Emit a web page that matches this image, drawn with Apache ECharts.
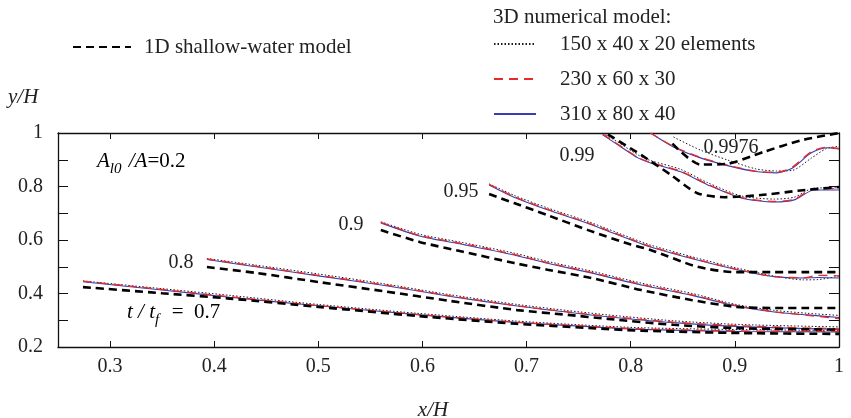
<!DOCTYPE html>
<html>
<head>
<meta charset="utf-8">
<script src="https://cdn.jsdelivr.net/npm/echarts@6.0.0/dist/echarts.min.js"></script>
<style>html,body{margin:0;padding:0;background:#fff}#main{width:851px;height:418px}</style>
</head>
<body>
<div id="main"></div>
<script>
var FONT = 'Liberation Serif';

// axis ticks
var xTicks = [0.3, 0.4, 0.5, 0.6, 0.7, 0.8, 0.9, 1];
var yLabels = [0.2, 0.4, 0.6, 0.8, 1];

// t/t_f = 0.7
var x70 = [0.274, 0.35, 0.415, 0.5, 0.595, 0.69, 0.76, 0.81, 0.906, 1.0];
var fine70 = [0.444, 0.413, 0.386, 0.354, 0.321, 0.292, 0.276, 0.266, 0.258, 0.256];
var mid70 = [0.446, 0.415, 0.388, 0.355, 0.322, 0.293, 0.277, 0.268, 0.260, 0.258];
var coarse70 = [0.447, 0.418, 0.393, 0.359, 0.326, 0.297, 0.281, 0.272, 0.265, 0.262];
var oneD70 = [0.424, 0.401, 0.381, 0.350, 0.316, 0.287, 0.271, 0.261, 0.252, 0.249];

// t/t_f = 0.8
var x80 = [0.393, 0.44, 0.5, 0.562, 0.627, 0.691, 0.74, 0.778, 0.841, 0.906, 1.0];
var fine80 = [0.527, 0.500, 0.466, 0.431, 0.389, 0.353, 0.330, 0.313, 0.291, 0.276, 0.266];
var mid80 = [0.529, 0.502, 0.468, 0.433, 0.391, 0.354, 0.331, 0.315, 0.293, 0.279, 0.268];
var coarse80 = [0.531, 0.506, 0.473, 0.437, 0.395, 0.359, 0.336, 0.320, 0.298, 0.284, 0.275];
var oneD80 = [0.499, 0.477, 0.443, 0.409, 0.372, 0.338, 0.320, 0.305, 0.283, 0.270, 0.265];

// t/t_f = 0.9
var x90 = [0.56, 0.598, 0.639, 0.688, 0.72, 0.762, 0.81, 0.858, 0.901, 0.938, 0.97, 1.0];
var fine90 = [0.664, 0.614, 0.583, 0.544, 0.513, 0.477, 0.432, 0.394, 0.353, 0.331, 0.320, 0.310];
var mid90 = [0.666, 0.616, 0.586, 0.546, 0.515, 0.479, 0.434, 0.396, 0.355, 0.332, 0.318, 0.306];
var coarse90 = [0.668, 0.621, 0.590, 0.551, 0.520, 0.484, 0.439, 0.401, 0.359, 0.337, 0.326, 0.318];
var oneD90 = [0.637, 0.592, 0.556, 0.514, 0.489, 0.458, 0.413, 0.376, 0.350, 0.346, 0.346, 0.346];

// t/t_f = 0.95
var x95 = [0.664, 0.688, 0.72, 0.759, 0.8, 0.819, 0.864, 0.901, 0.938, 0.966, 0.98, 1.0];
var fine95 = [0.806, 0.760, 0.713, 0.662, 0.601, 0.574, 0.525, 0.490, 0.463, 0.458, 0.460, 0.458];
var mid95 = [0.808, 0.762, 0.715, 0.664, 0.603, 0.576, 0.527, 0.491, 0.463, 0.459, 0.468, 0.466];
var coarse95 = [0.810, 0.767, 0.720, 0.669, 0.608, 0.581, 0.532, 0.496, 0.465, 0.451, 0.452, 0.465];
var oneD95 = [0.772, 0.738, 0.693, 0.637, 0.583, 0.563, 0.500, 0.480, 0.480, 0.480, 0.480, 0.480];

// t/t_f = 0.99
var x99 = [0.773, 0.788, 0.807, 0.819, 0.848, 0.874, 0.906, 0.938, 0.957, 0.976, 1.0];
var fine99 = [0.993, 0.955, 0.907, 0.888, 0.855, 0.806, 0.757, 0.742, 0.750, 0.787, 0.787];
var mid99 = [0.996, 0.957, 0.909, 0.890, 0.857, 0.808, 0.759, 0.744, 0.752, 0.791, 0.792];
var coarse99 = [1.000, 0.965, 0.918, 0.897, 0.864, 0.814, 0.765, 0.753, 0.760, 0.794, 0.795];
var x1d99 = [0.778, 0.81, 0.838, 0.864, 0.89, 0.925, 0.963, 1.0];
var oneD99 = [0.995, 0.918, 0.845, 0.775, 0.760, 0.768, 0.785, 0.798];

// t/t_f = 0.9976
var x9976 = [0.819, 0.841, 0.867, 0.893, 0.92, 0.94, 0.955, 0.973, 0.988, 1.0];
var fine9976 = [1.0, 0.948, 0.907, 0.878, 0.856, 0.851, 0.868, 0.925, 0.945, 0.940];
var mid9976 = [1.0, 0.950, 0.909, 0.880, 0.857, 0.853, 0.872, 0.929, 0.947, 0.942];
var xc9976 = [0.841, 0.867, 0.893, 0.92, 0.94, 0.955, 0.973, 0.988, 1.0];
var coarse9976 = [0.985, 0.936, 0.899, 0.866, 0.858, 0.860, 0.905, 0.942, 0.950];
var x1d9976 = [0.84, 0.867, 0.891, 0.928, 0.963, 1.0];
var oneD9976 = [0.960, 0.882, 0.884, 0.930, 0.972, 1.0];

var N1D = '1D shallow-water model';
var NC = '150 x 40 x 20 elements';
var NM = '230 x 60 x 30';
var NF = '310 x 80 x 40';

var st = {
  coarse: {color: '#1a1a1a', width: 1, type: [1.5, 2]},
  fine: {color: '#3b3bb3', width: 1.1, type: 'solid'},
  mid: {color: '#e52a2a', width: 1.3, type: [9, 6]},
  oneD: {color: '#000', width: 2.6, type: [8, 5]}
};

function line(name, xs, ys, s, z) {
  return {
    name: name, type: 'line', z: z, silent: true,
    data: xs.map(function(x, i) { return [x, ys[i]]; }),
    symbol: 'none', showSymbol: false, smooth: 0.25,
    lineStyle: {color: s.color, width: s.width, type: s.type},
    itemStyle: {color: s.color},
    emphasis: {disabled: true}
  };
}

var series = [];
[[x70, coarse70], [x80, coarse80], [x90, coarse90], [x95, coarse95], [x99, coarse99], [xc9976, coarse9976]]
  .forEach(function(c) { series.push(line(NC, c[0], c[1], st.coarse, 2)); });
[[x70, fine70], [x80, fine80], [x90, fine90], [x95, fine95], [x99, fine99], [x9976, fine9976]]
  .forEach(function(c) { series.push(line(NF, c[0], c[1], st.fine, 3)); });
[[x70, mid70], [x80, mid80], [x90, mid90], [x95, mid95], [x99, mid99], [x9976, mid9976]]
  .forEach(function(c) { series.push(line(NM, c[0], c[1], st.mid, 4)); });
[[x70, oneD70], [x80, oneD80], [x90, oneD90], [x95, oneD95], [x1d99, oneD99], [x1d9976, oneD9976]]
  .forEach(function(c) { series.push(line(N1D, c[0], c[1], st.oneD, 5)); });

var axisLine = {show: true, lineStyle: {color: '#111', width: 1.3}};
var lbl = {fontFamily: FONT, fontSize: 20, color: '#222'};

function txt(text, x, y, extra) {
  var s = {text: text, font: '20px "Liberation Serif"', fill: '#222', align: 'left', verticalAlign: 'middle'};
  for (var k in extra) s[k] = extra[k];
  return {type: 'text', x: x, y: y, style: s, silent: true};
}

var rich = {
  i: {fontFamily: FONT, fontStyle: 'italic', fontSize: 21, color: '#222', lineHeight: 24},
  s: {fontFamily: FONT, fontStyle: 'italic', fontSize: 15, color: '#222', lineHeight: 24, verticalAlign: 'bottom', padding: [0, 2, -4, 0]},
  n: {fontFamily: FONT, fontSize: 21, color: '#222', lineHeight: 24}
};

var legendText = {fontFamily: FONT, fontSize: 21, color: '#222', lineHeight: 24};

var chart = echarts.init(document.getElementById('main'));
chart.setOption({
  animation: false,
  backgroundColor: '#fff',
  grid: {left: 58, right: 12, top: 133, bottom: 71},
  xAxis: [{
    type: 'value', min: 0.25, max: 1, position: 'bottom',
    axisLine: axisLine, splitLine: {show: false},
    axisTick: {inside: true, length: 6, customValues: xTicks, lineStyle: {color: '#111'}},
    axisLabel: Object.assign({customValues: xTicks, margin: 10}, lbl)
  }, {
    type: 'value', min: 0.25, max: 1, position: 'top',
    axisLine: axisLine, splitLine: {show: false},
    axisTick: {inside: true, length: 6, customValues: xTicks, lineStyle: {color: '#111'}},
    axisLabel: {show: false}
  }],
  yAxis: [{
    type: 'value', min: 0.2, max: 1, interval: 0.1, position: 'left',
    axisLine: axisLine, splitLine: {show: false},
    axisTick: {inside: true, length: 10, lineStyle: {color: '#111'}},
    axisLabel: Object.assign({customValues: yLabels, margin: 15}, lbl)
  }, {
    type: 'value', min: 0.2, max: 1, interval: 0.1, position: 'right',
    axisLine: axisLine, splitLine: {show: false},
    axisTick: {inside: true, length: 10, lineStyle: {color: '#111'}},
    axisLabel: {show: false}
  }],
  legend: [{
    data: [N1D], left: 72, top: 35, padding: 0, selectedMode: false,
    itemWidth: 58, itemHeight: 2, itemStyle: {opacity: 0},
    textStyle: Object.assign({padding: [0, 0, 0, 8]}, legendText)
  }, {
    data: [NC, NM, NF], orient: 'vertical', left: 493, top: 32, padding: 0, selectedMode: false,
    itemWidth: 42, itemHeight: 2, itemGap: 11, itemStyle: {opacity: 0},
    textStyle: Object.assign({padding: [0, 0, 0, 19]}, legendText)
  }],
  graphic: [
    txt('3D numerical model:', 493, 17, {font: '21px "Liberation Serif"'}),
    txt('y/H', 8, 97, {font: 'italic 21px "Liberation Serif"'}),
    txt('x/H', 433, 410, {font: 'italic 21px "Liberation Serif"', align: 'center'}),
    {type: 'text', x: 97, y: 161, silent: true,
      style: {text: '{i|A}{s|l0}{i| /A}{n|=0.2}', rich: rich, verticalAlign: 'middle'}},
    {type: 'text', x: 127, y: 312, silent: true,
      style: {text: '{i|t / t}{s|f}{n|  =  0.7}', rich: rich, verticalAlign: 'middle'}},
    txt('0.8', 181, 263, {align: 'center'}),
    txt('0.9', 351, 225, {align: 'center'}),
    txt('0.95', 461, 192, {align: 'center'}),
    txt('0.99', 577, 156, {align: 'center'}),
    txt('0.9976', 731, 148, {align: 'center'})
  ],
  series: series
});
</script>
</body>
</html>
